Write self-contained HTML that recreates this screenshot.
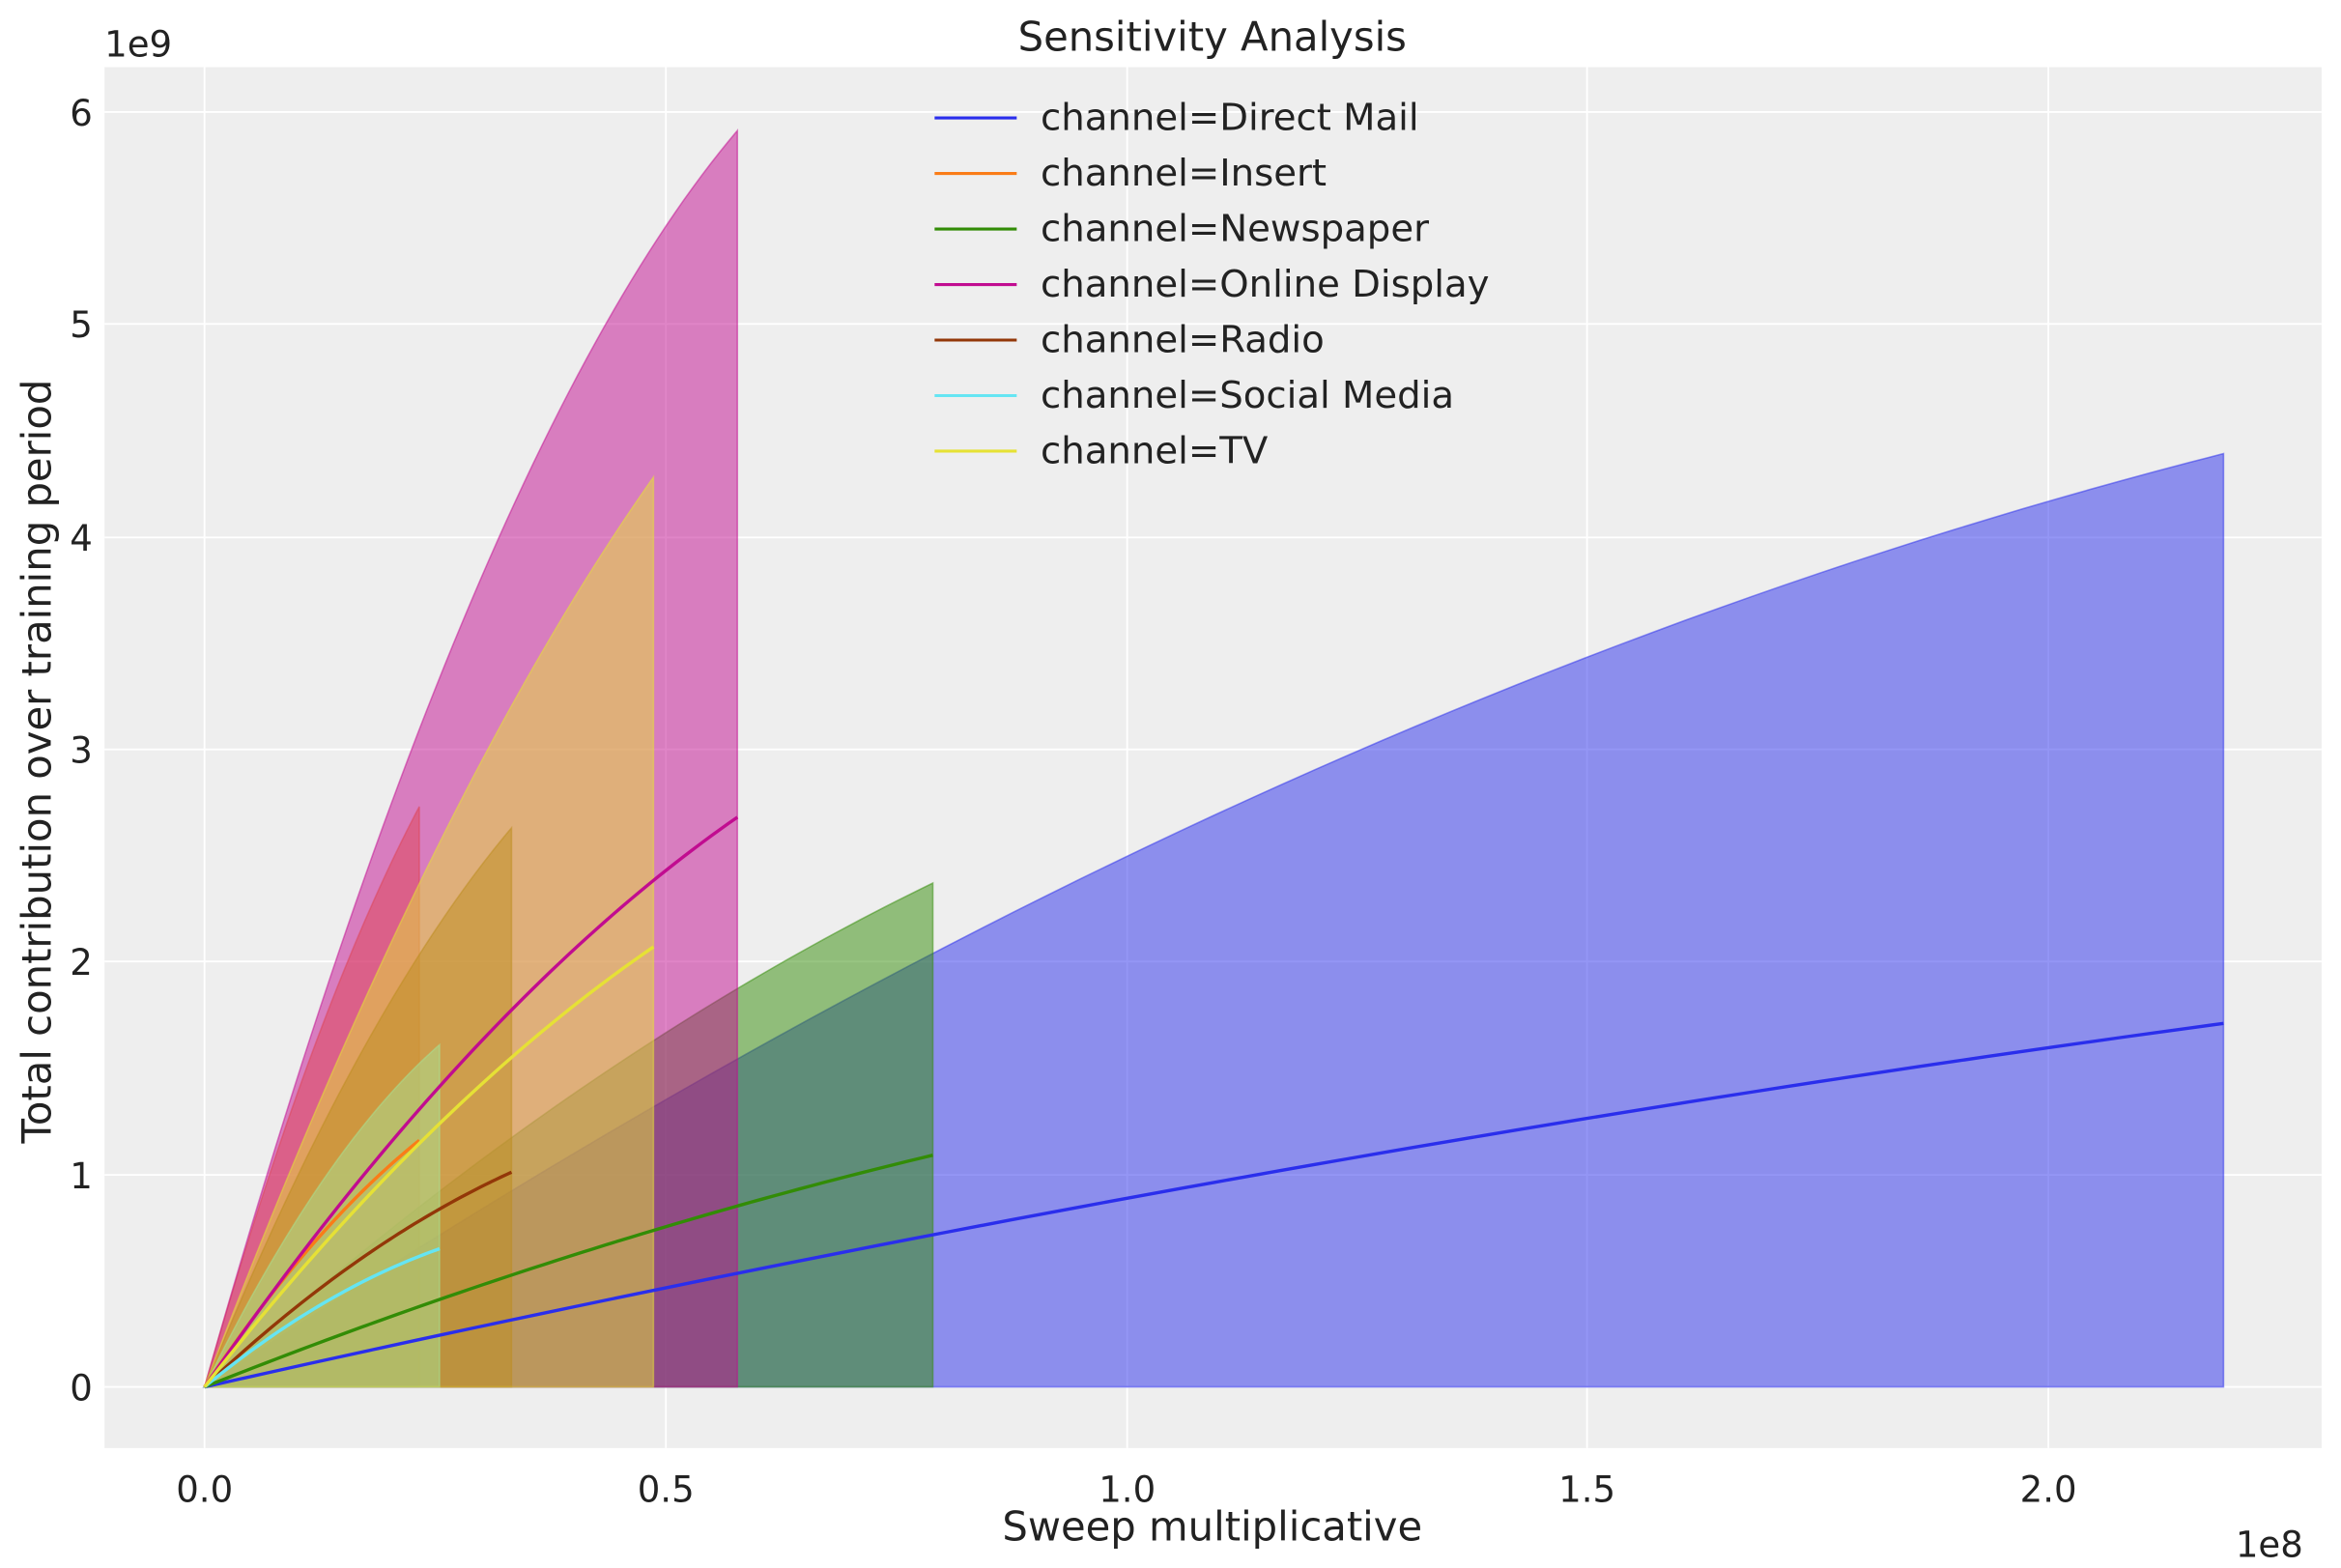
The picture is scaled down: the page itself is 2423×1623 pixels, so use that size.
<!DOCTYPE html>
<html><head><meta charset="utf-8"><style>
html,body{margin:0;padding:0;background:#fff;}
svg{display:block;font-family:"DejaVu Sans","Liberation Sans",sans-serif;}
</style></head><body>
<svg id="s" width="2423" height="1623" viewBox="0 0 1568 1050.3" preserveAspectRatio="none" xmlns="http://www.w3.org/2000/svg">
<rect x="0" y="0" width="1568" height="1051" fill="#fff"/>
<rect x="70" y="45" width="1485" height="925" fill="#eeeeee"/>
<g stroke="#fff" stroke-width="1.2">
<line x1="137" y1="45" x2="137" y2="970"/><line x1="446" y1="45" x2="446" y2="970"/><line x1="755" y1="45" x2="755" y2="970"/><line x1="1063" y1="45" x2="1063" y2="970"/><line x1="1372" y1="45" x2="1372" y2="970"/>
<line x1="70" y1="929" x2="1555" y2="929"/><line x1="70" y1="787" x2="1555" y2="787"/><line x1="70" y1="644" x2="1555" y2="644"/><line x1="70" y1="502" x2="1555" y2="502"/><line x1="70" y1="360" x2="1555" y2="360"/><line x1="70" y1="217" x2="1555" y2="217"/><line x1="70" y1="75" x2="1555" y2="75"/>
</g>
<g id="data"></g>
<g font-size="24" fill="#222" text-anchor="middle">
<text x="137" y="1006">0.0</text><text x="446" y="1006">0.5</text><text x="755" y="1006">1.0</text><text x="1063" y="1006">1.5</text><text x="1372" y="1006">2.0</text>
<text x="1520" y="1043">1e8</text>
</g>
<g font-size="24" fill="#222" text-anchor="end">
<text x="62" y="938">0</text><text x="62" y="796">1</text><text x="62" y="653">2</text><text x="62" y="511">3</text><text x="62" y="369">4</text><text x="62" y="226">5</text><text x="62" y="84">6</text>
</g>
<text x="70" y="38" font-size="24" fill="#222">1e9</text>
<text x="812" y="34" font-size="27" fill="#222" text-anchor="middle">Sensitivity Analysis</text>
<text x="812" y="1032" font-size="27" fill="#222" text-anchor="middle">Sweep multiplicative</text>
<text transform="translate(34,510) rotate(-90)" font-size="27" fill="#222" text-anchor="middle">Total contribution over training period</text>
<g id="leg" font-size="25" fill="#222"></g>
</svg>
<script>
var X0=137,SX=617.5/1e8,Y0=929,SY=142.4/1e9;
var S=[
["Direct Mail","#2a2eec",2.19e8,4.39e9,1.71e9,0.45,0.25],
["Insert","#fa7c17",0.233e8,2.73e9,1.16e9,0.3,0.3],
["Newspaper","#328c06",0.79e8,2.37e9,1.09e9,0.3,0.25],
["Online Display","#c10c90",0.578e8,5.91e9,2.68e9,0.5,0.35],
["Radio","#933708",0.333e8,2.63e9,1.01e9,0.35,0.35],
["Social Media","#65e5f3",0.255e8,1.61e9,0.65e9,0.4,0.4],
["TV","#e6e135",0.487e8,4.28e9,2.07e9,0.3,0.3]];
function f(t,b){return (1+b)*t-b*t*t;}
var g=document.getElementById("data"),h="",ln="";
S.forEach(function(s){
 var xm=s[2],up="",mn="";
 for(var i=0;i<=60;i++){var t=i/60,x=X0+t*xm*SX;
  up+=(i?"L":"M")+x.toFixed(2)+","+(Y0-s[3]*f(t,s[5])*SY).toFixed(2);
  mn+=(i?"L":"M")+x.toFixed(2)+","+(Y0-s[4]*f(t,s[6])*SY).toFixed(2);}
 var xe=(X0+xm*SX).toFixed(2);
 h+='<path d="'+up+'L'+xe+','+Y0+'L'+X0+','+Y0+'Z" fill="'+s[1]+'" fill-opacity="0.5" stroke="'+s[1]+'" stroke-opacity="0.5" stroke-width="1"/>';
 ln+='<path d="'+mn+'" fill="none" stroke="'+s[1]+'" stroke-width="2.2"/>';
});
g.innerHTML=h+ln;
var L="";
S.forEach(function(s,i){var y=79+i*37.2;
 L+='<line x1="626" x2="681" y1="'+y+'" y2="'+y+'" stroke="'+s[1]+'" stroke-width="2"/>';
 L+='<text x="697" y="'+(y+8)+'">channel='+s[0]+'</text>';});
document.getElementById("leg").innerHTML=L;
</script>
</body></html>
